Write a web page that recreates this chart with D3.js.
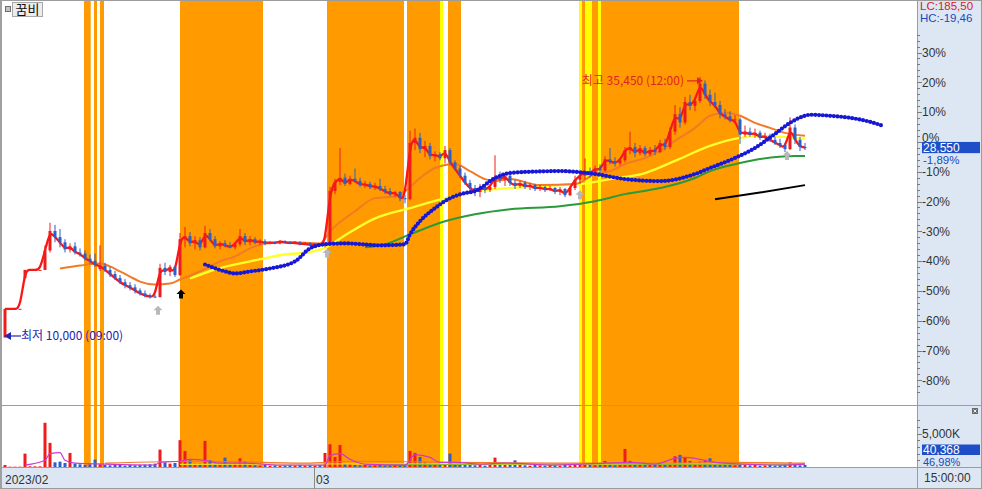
<!DOCTYPE html>
<html><head><meta charset="utf-8">
<script src="https://cdn.jsdelivr.net/npm/d3@7"></script>
<style>
html,body{margin:0;padding:0;background:#fff;overflow:hidden;}
svg{display:block;font-family:"Liberation Sans",Arial,sans-serif;}
</style></head><body>
<svg id="c" width="982" height="489"></svg>
<script>
// ---------- DATA ----------
const stockName = "꿈비";
const basePrice = 29100;
const pctTicks = [30,20,10,0,-10,-20,-30,-40,-50,-60,-70,-80];
const opens = [10000,12800,12800,12800,15800,16600,16600,16600,16600,18500,
 20400,19800,19300,18600,18900,18300,18200,17700,17500,16700,
 17000,16600,16200,15800,15400,15100,14900,14600,14300,14100,
 14000,13950,16800,16400,16900,16100,19600,19900,19200,19500,
 18800,20200,19600,18900,19200,19000,18800,19100,19900,19300,
 19600,19300,19400,19200,19300,19200,19400,19300,19200,19300,
 19100,19200,19000,19100,19000,19100,24300,25200,25600,25000,
 25500,25300,24900,25000,24700,24800,24500,24300,24000,24200,
 23600,23500,29000,29500,28400,28700,27700,27900,27500,28300,
 27100,26500,25800,25100,24600,24200,24700,24400,24700,25700,
 25400,25800,25100,24800,25100,24700,24900,24500,24700,24400,
 24600,24200,24500,23900,24600,25400,25800,26200,26000,26500,
 26300,27400,27200,27000,27300,28300,28600,28000,28500,27900,
 28300,28100,29000,28600,30100,31800,31000,33000,32600,33100,
 34800,33700,33000,32700,31800,31600,31200,31300,29800,30100,
 29800,30000,29500,29700,29300,29000,28800,28400,30500,29300,
 28600];
const highs = [12800,12800,12800,12800,16600,16600,16600,16600,19000,21200,
 21000,20600,19600,19200,19300,18700,18500,18100,18200,19000,
 17300,16900,16500,16100,15700,15400,15200,14800,14600,14300,
 14200,17200,17300,17100,17000,20200,20800,20300,19900,19800,
 20900,20600,19900,19400,19500,19300,19300,20600,20200,19900,
 19800,19600,19600,19400,19400,19500,19500,19400,19400,19400,
 19300,19300,19200,19200,19300,24700,25500,28500,26000,25800,
 26500,25600,25300,25200,25100,25500,24800,24600,24300,24300,
 23900,30200,30400,30000,29200,29000,28200,28100,28700,28500,
 27300,26800,26100,25400,24900,25000,25000,24900,27800,26200,
 26000,26300,25400,25300,25300,25100,25000,24900,24800,24800,
 24700,24700,24600,24800,25800,26100,27500,26600,26800,26900,
 27700,28500,27600,27500,28600,30100,29000,28800,28700,28600,
 28800,29300,29400,30500,32700,32500,33500,33700,33400,35450,
 35100,34200,33900,33100,32300,32100,31700,31500,30700,30500,
 30400,30200,30000,29900,29600,29400,29000,31500,30800,29600,
 29000];
const lows = [10000,12800,12800,12800,15800,16600,16600,16600,16600,18300,
 19300,18800,18300,18300,18100,17900,17500,17200,16900,16500,
 16400,15900,15600,15200,14800,14600,14300,14100,13900,13800,
 13850,13900,16100,16000,15900,16000,18800,18900,18600,18500,
 18700,19400,18700,18600,18800,18700,18600,18900,19000,19000,
 19100,19000,19000,19100,19100,19100,19200,19100,19100,19000,
 19000,18900,18900,18900,18800,19000,24000,24900,24800,24900,
 25200,24700,24600,24500,24400,24300,24000,23800,23700,23300,
 23100,23400,28300,28000,27600,27400,27200,27300,27000,26800,
 26300,25600,24900,24200,23800,23700,24100,24200,24500,25100,
 24800,24800,24500,24600,24500,24400,24300,24300,24200,24300,
 24000,23900,23700,23800,24400,25000,25400,25600,25800,26000,
 26200,26900,26700,26800,27100,27900,27600,27800,27700,27700,
 27800,28000,28300,28400,29800,30500,30800,32200,32100,32900,
 33300,32600,32400,31400,31300,31000,30900,28900,29600,29600,
 29500,29300,29200,29100,28800,28500,28100,28300,28900,28200,
 28300];
const closes = [12800,12800,12800,12800,16600,16600,16600,16600,18500,20400,
 19800,19300,18600,18900,18300,18200,17700,17500,17100,17000,
 16600,16200,15800,15400,15100,14900,14600,14300,14100,14000,
 13950,16800,16400,16900,16100,19600,19900,19200,19500,18800,
 20200,19600,18900,19200,19000,18800,19100,19900,19300,19600,
 19300,19400,19200,19300,19200,19400,19300,19200,19300,19100,
 19200,19000,19100,19000,19100,24300,25200,25600,25000,25500,
 25300,24900,25000,24700,24800,24500,24300,24000,24200,23600,
 23500,29000,29500,28400,28700,27700,27900,27500,28300,27100,
 26500,25800,25100,24600,24200,24700,24400,24700,25700,25400,
 25800,25100,24800,25100,24700,24900,24500,24700,24400,24600,
 24200,24500,23900,24600,25400,25800,26200,26000,26500,26300,
 27400,27200,27000,27300,28300,28600,28000,28500,27900,28300,
 28100,29000,28600,30100,31800,31000,33000,32600,33100,34800,
 33700,33000,32700,31800,31600,31200,31300,29800,30100,29800,
 30000,29500,29700,29300,29000,28800,28400,30500,29300,28600,
 28550];
const volumes = [300,50,50,50,2000,100,100,100,6600,3600,
 700,800,600,2100,500,400,300,400,1100,400,
 300,250,350,300,200,300,250,300,350,400,
 500,2600,700,500,600,4000,2400,1000,500,500,
 3900,1000,500,400,1400,400,500,1300,800,300,
 250,200,300,200,250,150,200,250,200,300,
 200,250,200,300,2100,3400,1500,3300,500,400,
 300,250,300,200,250,300,200,250,300,400,
 300,2400,2100,1500,700,500,300,300,400,2000,
 400,300,350,300,250,300,200,300,1400,400,
 300,350,1000,300,250,200,300,250,200,300,
 250,200,300,250,300,400,500,300,250,300,
 900,300,250,300,2700,900,400,300,350,300,
 300,400,350,500,1600,1800,1400,900,500,800,
 900,1300,400,300,350,300,250,400,300,250,
 300,200,250,300,200,250,350,700,300,250,
 300];
// indicator lines: [bar index, price]
const ma20Idx = [11,15,19,21,23,25,27,30,33,35,38,41,43,46,49,52,57,63,65,70,74,78,80,83,86,90,93,96,98,101,107,114,118,121,124,128,131,134,138,141,144,147,150,153,156,160];
const ma20Val = [16740,17030,17230,16940,16450,15950,15460,15170,15270,15660,16250,16940,17430,17920,18700,19190,19290,19190,20370,22330,23610,23800,24290,25570,26550,26940,26250,25470,25270,25470,24880,24980,25960,26250,26940,27530,28220,29200,30470,31650,31950,31650,30960,30470,29980,29690];
const ma60Idx = [37,42,49,56,61,64,68,74,81,88,94,101,111,115,121,128,134,141,147,151,158,160];
const ma60Val = [15760,16640,17430,18110,18350,18750,19980,21640,22630,23610,24290,24590,24880,24980,25470,26060,27240,28710,29490,29690,29490,29390];
const ma120Idx = [72,76,81,88,94,101,111,118,124,131,138,141,147,151,158,160];
const ma120Val = [18800,19100,20070,21350,22040,22530,22820,23310,24000,24590,25570,26250,27040,27430,27730,27730];
const leadIdx = [40,44,46,49,53,58,61,64,68,75,80,81,83,86,89,92,94,98,101,106,111,118,124,131,138,141,146,150,154,157,160,161,165,169,173,175.6];
const leadVal = [17130,16450,16250,16450,16740,17430,18700,19100,19190,19000,19100,20070,21350,22630,23600,24100,24290,25570,26060,26200,26250,25960,25470,25270,25960,26550,27530,28510,29880,30960,31650,31750,31650,31450,31060,30670];
const trendIdx = [142,151,160];
const trendVal = [23510,24150,24880];
// signal arrows
const sigIdx = [30.6,35.2,64.4,115,156.4];
const sigPrice = [13110,14680,18700,24390,28220];
const sigColor = ["#b8b8b8","#000000","#b8b8b8","#b8b8b8","#b8b8b8"];
// highlighted periods (bar index ranges)
const bandStart = [15.8,17.8,19.0,35.0,64.4,80.4,87.0,88.6,114.8,115.4,116.0,117.4,118.6,119.2];
const bandEnd   = [17.14,18.4,19.8,51.6,79.8,87.0,87.6,91.2,115.4,116.0,117.4,118.6,119.2,146.8];
const bandType  = ["o","o","o","o","o","o","y","o","y","o","y","o","y","o"];
// volume moving-average lines (K)
const vMa5Idx = [4,8,9,11,12,14,20,30,31,35,37,40,43,48,55,64,65,67,69,72,80,82,85,87,90,95,100,110,120,125,130,134,136,139,142,148,155,160];
const vMa5Val = [290,1000,2000,2150,1000,570,430,300,700,860,1150,1000,570,570,290,290,1700,2000,1150,430,290,1850,1430,700,700,430,570,290,570,700,430,1300,1430,1150,700,430,290,430];
const vMa20Idx = [20,40,60,70,90,110,130,145,160];
const vMa20Val = [570,860,570,860,700,570,570,700,570];
const vMa60Idx = [35,60,80,100,120,140,160];
const vMa60Val = [400,450,480,420,430,480,450];
const vMa120Idx = [72,100,130,160];
const vMa120Val = [350,380,400,420];
const volTicks = [5000];
const xLabels = ["2023/02","03"];
const xLabelIdx = [-0.4,61.8];
const hiTime = "12:00", loTime = "09:00";
const lcText = "LC:185,50", hcText = "HC:-19,46";
const lastPctText = "-1,89%";
const lastVolText = "40,368", lastVolPct = "46,98%";
const timeText = "15:00:00";

// ---------- LAYOUT ----------
const W = 982, H = 489;
const plotL = 2, plotR = 917, mainTop = 1, mainBot = 405, volBot = 467;
const svg = d3.select("#c");
const x = d3.scaleLinear().domain([0, closes.length - 1]).range([5, 805]);
const y = d3.scaleLinear().domain([basePrice * 0.2, basePrice * 1.3]).range([380.3, 52.5]);
const yv = d3.scaleLinear().domain([0, 5000]).range([volBot, 433.5]);
const fmt = d3.format(",");

svg.append("rect").attr("width", W).attr("height", H).attr("fill", "#fff");
const defs = svg.append("defs");
defs.append("clipPath").attr("id", "cm").append("rect").attr("x", plotL).attr("y", mainTop).attr("width", plotR - plotL).attr("height", mainBot - mainTop);
defs.append("clipPath").attr("id", "cv").append("rect").attr("x", plotL).attr("y", mainBot + 1).attr("width", plotR - plotL).attr("height", volBot - mainBot - 1);

// bands
svg.append("g").selectAll("rect").data(bandStart).join("rect")
  .attr("x", (d) => x(d)).attr("y", mainTop)
  .attr("width", (d, i) => x(bandEnd[i]) - x(d)).attr("height", volBot - mainTop)
  .attr("fill", (d, i) => bandType[i] === "o" ? "#ff9a00" : "#ffff00");

// axis panels
svg.append("rect").attr("x", plotR).attr("y", 0).attr("width", W - plotR).attr("height", H).attr("fill", "#dde7f3");
svg.append("rect").attr("x", 0).attr("y", volBot).attr("width", plotR).attr("height", H - volBot).attr("fill", "#dde7f3");

// ---------- MAIN PANEL ----------
const gm = svg.append("g").attr("clip-path", "url(#cm)");
const idx = d3.range(closes.length);
const up = (i) => closes[i] >= opens[i];
const cRed = "#f01c1c", cBlue = "#2b5fca";
const lineOf = (xs, vs, curve) => d3.line().x((d, i) => x(xs[i])).y((d) => y(d)).curve(curve)(vs);

gm.append("path").attr("d", lineOf(ma120Idx, ma120Val, d3.curveMonotoneX))
  .attr("fill", "none").attr("stroke", "#2a9a3a").attr("stroke-width", 2);
gm.append("path").attr("d", lineOf(ma60Idx, ma60Val, d3.curveMonotoneX))
  .attr("fill", "none").attr("stroke", "#ffff2a").attr("stroke-width", 2.4);
gm.append("path").attr("d", lineOf(ma20Idx, ma20Val, d3.curveMonotoneX))
  .attr("fill", "none").attr("stroke", "#f27a26").attr("stroke-width", 2);
gm.append("path").attr("d", d3.line().x((d, i) => x(i)).y((d) => y(d)).curve(d3.curveBasis)(closes))
  .attr("fill", "none").attr("stroke", "#ff1414").attr("stroke-width", 2.3);

gm.append("g").selectAll("line").data(idx).join("line")
  .attr("x1", (i) => x(i)).attr("x2", (i) => x(i))
  .attr("y1", (i) => y(highs[i])).attr("y2", (i) => y(lows[i]))
  .attr("stroke", (i) => up(i) ? cRed : cBlue).attr("stroke-width", 1);
gm.append("g").selectAll("rect").data(idx).join("rect")
  .attr("x", (i) => x(i) - 1.5).attr("width", 3)
  .attr("y", (i) => y(Math.max(opens[i], closes[i])))
  .attr("height", (i) => Math.max(1, Math.abs(y(opens[i]) - y(closes[i]))))
  .attr("fill", (i) => up(i) ? cRed : cBlue);

gm.append("path").attr("d", lineOf(leadIdx, leadVal, d3.curveMonotoneX))
  .attr("fill", "none").attr("stroke", "#1717d6").attr("stroke-width", 4.2)
  .attr("stroke-linecap", "round").attr("stroke-dasharray", "0 3.7");
gm.append("path").attr("d", lineOf(trendIdx, trendVal, d3.curveLinear))
  .attr("fill", "none").attr("stroke", "#000").attr("stroke-width", 2);

// signal arrows
gm.append("g").selectAll("path").data(sigIdx).join("path")
  .attr("d", (d, i) => {
    const cx = x(d), t = y(sigPrice[i]);
    return `M${cx},${t}L${cx + 4.5},${t + 4.5}L${cx + 2},${t + 4.5}L${cx + 2},${t + 9}L${cx - 2},${t + 9}L${cx - 2},${t + 4.5}L${cx - 4.5},${t + 4.5}Z`;
  })
  .attr("fill", (d, i) => sigColor[i]);

// high / low labels
const hiI = d3.maxIndex(highs), loI = d3.minIndex(lows);
const hx = x(hiI), hy = y(highs[hiI]) + 4;
gm.append("text").attr("x", hx - 16).attr("y", hy + 4.5).attr("text-anchor", "end")
  .attr("font-family", "'Noto Sans CJK KR',sans-serif").attr("font-size", 12).attr("fill", "#e02424")
  .text(`최고 ${fmt(highs[hiI])} (${hiTime})`);
gm.append("line").attr("x1", hx - 13).attr("x2", hx).attr("y1", hy).attr("y2", hy).attr("stroke", "#e02424").attr("stroke-width", 1.2);
gm.append("path").attr("d", `M${hx + 3},${hy}L${hx - 3},${hy - 3.5}L${hx - 3},${hy + 3.5}Z`).attr("fill", "#e02424");
const lx = x(loI), ly = y(lows[loI]) - 1.5;
gm.append("line").attr("x1", lx + 2).attr("x2", lx + 16).attr("y1", ly).attr("y2", ly).attr("stroke", "#2424b4").attr("stroke-width", 1.2);
gm.append("path").attr("d", `M${lx - 1},${ly}L${lx + 6},${ly - 4}L${lx + 6},${ly + 4}Z`).attr("fill", "#2424b4");
gm.append("text").attr("x", lx + 16).attr("y", ly + 4.5)
  .attr("font-family", "'Noto Sans CJK KR',sans-serif").attr("font-size", 12).attr("fill", "#2424b4")
  .text(`최저 ${fmt(lows[loI])} (${loTime})`);

// ---------- VOLUME PANEL ----------
const gv = svg.append("g").attr("clip-path", "url(#cv)");
gv.append("g").selectAll("rect").data(idx).join("rect")
  .attr("x", (i) => x(i) - 1.5).attr("width", 3)
  .attr("y", (i) => yv(volumes[i])).attr("height", (i) => Math.max(1, volBot - yv(volumes[i])))
  .attr("fill", (i) => up(i) ? cRed : cBlue);
const vline = (xs, vs) => d3.line().x((d, i) => x(xs[i])).y((d) => yv(d)).curve(d3.curveMonotoneX)(vs);
gv.append("path").attr("d", vline(vMa120Idx, vMa120Val)).attr("fill", "none").attr("stroke", "#2a9a3a").attr("stroke-width", 1.2);
gv.append("path").attr("d", vline(vMa60Idx, vMa60Val)).attr("fill", "none").attr("stroke", "#e8e020").attr("stroke-width", 1.2);
gv.append("path").attr("d", vline(vMa20Idx, vMa20Val)).attr("fill", "none").attr("stroke", "#f27a26").attr("stroke-width", 1.2);
gv.append("path").attr("d", vline(vMa5Idx, vMa5Val)).attr("fill", "none").attr("stroke", "#cc3acc").attr("stroke-width", 1.2);

// ---------- FRAME LINES ----------
const gl = svg.append("g").attr("stroke", "#9c9c9c").attr("shape-rendering", "crispEdges");
gl.append("line").attr("x1", 0).attr("x2", W).attr("y1", 0.5).attr("y2", 0.5);
gl.append("line").attr("x1", 0).attr("x2", W).attr("y1", mainBot + 0.5).attr("y2", mainBot + 0.5);
gl.append("line").attr("x1", 0).attr("x2", W).attr("y1", volBot + 0.5).attr("y2", volBot + 0.5);
gl.append("line").attr("x1", 0).attr("x2", W).attr("y1", H - 0.5).attr("y2", H - 0.5);
gl.append("line").attr("x1", plotR + 0.5).attr("x2", plotR + 0.5).attr("y1", 0).attr("y2", H);
gl.append("rect").attr("x", 0).attr("y", 0).attr("width", 2).attr("height", H).attr("fill", "#a0a0a0").attr("stroke", "none");
gl.append("line").attr("x1", W - 0.5).attr("x2", W - 0.5).attr("y1", 0).attr("y2", H);

// ---------- PRICE AXIS ----------
const ga = svg.append("g").attr("shape-rendering", "crispEdges");
d3.range(-84, 40, 2).forEach((t) => {
  const yy = Math.round(y(basePrice * (1 + t / 100))) + 0.5;
  if (yy < 30 || yy > 400) return;
  const major = t % 10 === 0;
  ga.append("line").attr("x1", plotR).attr("x2", plotR + (major ? 5 : 3)).attr("y1", yy).attr("y2", yy)
    .attr("stroke", "#7a7a7a");
});
svg.append("g").selectAll("text").data(pctTicks).join("text")
  .attr("x", plotR + 5).attr("y", (t) => y(basePrice * (1 + t / 100)) + (t === 0 ? 0.5 : 4.3))
  .attr("font-size", 12).attr("fill", "#333").text((t) => `${t}%`);
svg.append("text").attr("x", plotR + 3).attr("y", 10).attr("font-size", 11.5).attr("fill", "#e01818").text(lcText);
svg.append("text").attr("x", plotR + 3).attr("y", 22).attr("font-size", 11.5).attr("fill", "#2048c0").text(hcText);
const lastC = closes[closes.length - 1], lyc = y(lastC);
svg.append("rect").attr("x", plotR + 5).attr("y", lyc - 5.6).attr("width", 58).attr("height", 11.2).attr("fill", "#1f4fc6");
svg.append("text").attr("x", plotR + 6).attr("y", lyc + 4.2).attr("font-size", 12).attr("fill", "#fff").text(fmt(lastC));
svg.append("text").attr("x", plotR + 6).attr("y", lyc + 16).attr("font-size", 11.5).attr("fill", "#2048c0").text(lastPctText);

// ---------- VOLUME AXIS ----------
d3.range(1000, 8000, 1000).forEach((v) => {
  const yy = Math.round(yv(v)) + 0.5;
  if (yy < mainBot + 3) return;
  ga.append("line").attr("x1", plotR).attr("x2", plotR + (v % 5000 === 0 ? 5 : 3)).attr("y1", yy).attr("y2", yy).attr("stroke", "#7a7a7a");
});
svg.append("g").selectAll("text").data(volTicks).join("text")
  .attr("x", plotR + 5).attr("y", (v) => yv(v) + 4.3).attr("font-size", 12).attr("fill", "#333")
  .text((v) => `${fmt(v)}K`);
svg.append("rect").attr("x", plotR + 5).attr("y", 444.5).attr("width", 58).attr("height", 10.5).attr("fill", "#1f4fc6");
svg.append("text").attr("x", plotR + 6).attr("y", 454).attr("font-size", 12).attr("fill", "#fff").text(lastVolText);
svg.append("text").attr("x", plotR + 6).attr("y", 466).attr("font-size", 11).attr("fill", "#2048c0").text(lastVolPct);
svg.append("rect").attr("x", 972).attr("y", 408).attr("width", 6).attr("height", 6).attr("fill", "#6a6a6a");
svg.append("path").attr("d", "M973.5,409.5L976.5,412.5M976.5,409.5L973.5,412.5").attr("stroke", "#fff").attr("stroke-width", 0.9);

// ---------- TIME AXIS ----------
svg.append("g").selectAll("line").data(xLabelIdx.slice(1)).join("line")
  .attr("x1", (d) => Math.round(x(d)) + 0.5).attr("x2", (d) => Math.round(x(d)) + 0.5)
  .attr("y1", volBot).attr("y2", H).attr("stroke", "#8a8a8a").attr("shape-rendering", "crispEdges");
svg.append("g").selectAll("text").data(xLabels).join("text")
  .attr("x", (d, i) => Math.max(3, x(xLabelIdx[i]) + 2)).attr("y", 484)
  .attr("font-size", 12).attr("fill", "#333").text((d) => d);
svg.append("text").attr("x", plotR + 7).attr("y", 482).attr("font-size", 12).attr("fill", "#333").text(timeText);

// ---------- LEGEND ----------
svg.append("rect").attr("x", 5.5).attr("y", 6.5).attr("width", 5).attr("height", 5).attr("fill", "#c4c4c4").attr("stroke", "#6e6e6e");
svg.append("rect").attr("x", 12.5).attr("y", 2.5).attr("width", 30).attr("height", 14).attr("fill", "#ececec").attr("stroke", "#a8a8a8");
svg.append("text").attr("x", 27.5).attr("y", 14).attr("text-anchor", "middle")
  .attr("font-family", "'Noto Sans CJK KR',sans-serif").attr("font-size", 13).attr("fill", "#111").text(stockName);
</script>
</body></html>
